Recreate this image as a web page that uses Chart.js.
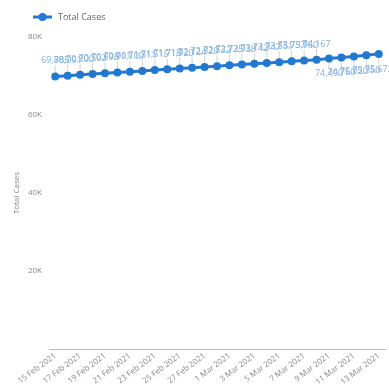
<!DOCTYPE html>
<html>
<head>
<meta charset="utf-8">
<script src="https://cdn.jsdelivr.net/npm/chart.js@4/dist/chart.umd.min.js"></script>
<style>
  html, body { margin: 0; padding: 0; background: #fff; }
  #wrap { width: 389px; height: 387px; }
</style>
</head>
<body>
<div id="wrap"><canvas id="casesChart" width="389" height="387"></canvas></div>
<script>
// dates, 15 Feb 2021 .. 13 Mar 2021
const dates = [
  '15 Feb 2021', '16 Feb 2021', '17 Feb 2021', '18 Feb 2021', '19 Feb 2021', '20 Feb 2021',
  '21 Feb 2021', '22 Feb 2021', '23 Feb 2021', '24 Feb 2021', '25 Feb 2021', '26 Feb 2021',
  '27 Feb 2021', '28 Feb 2021', '1 Mar 2021', '2 Mar 2021', '3 Mar 2021', '4 Mar 2021',
  '5 Mar 2021', '6 Mar 2021', '7 Mar 2021', '8 Mar 2021', '9 Mar 2021', '10 Mar 2021',
  '11 Mar 2021', '12 Mar 2021', '13 Mar 2021'
];
const totalCases = [
  69885, 70091, 70300, 70502, 70698, 70901, 71109, 71311, 71515, 71718, 71920, 72124,
  72329, 72532, 72735, 72938, 73142, 73347, 73551, 73757, 73960, 74167, 74490, 74760,
  75020, 75350, 75672
];
const yTicks = [0, 20000, 40000, 60000, 80000];
const seriesName = 'Total Cases';

const lineColor = '#2179d4';
const font = "'Open Sans', sans-serif";

// legend drawn by hand: line with a dot, then the name
const legendMark = {
  id: 'legendMark',
  afterDraw(chart) {
    const ctx = chart.ctx;
    ctx.save();
    ctx.strokeStyle = lineColor; ctx.lineWidth = 3;
    ctx.beginPath(); ctx.moveTo(33, 17); ctx.lineTo(52, 17); ctx.stroke();
    ctx.fillStyle = lineColor;
    ctx.beginPath(); ctx.arc(42.5, 17, 4, 0, Math.PI * 2); ctx.fill();
    ctx.fillStyle = '#666';
    ctx.font = '9px ' + font;
    ctx.textBaseline = 'middle';
    ctx.fillText(seriesName, 58, 17);
    ctx.restore();
  }
};

// data labels with leader lines
const valueLabels = {
  id: 'valueLabels',
  afterDatasetsDraw(chart) {
    const ctx = chart.ctx;
    const meta = chart.getDatasetMeta(0);
    ctx.save();
    ctx.font = "9px 'Liberation Sans Narrow', 'Open Sans', sans-serif";
    ctx.textAlign = 'center';
    meta.data.forEach((pt, i) => {
      const below = i >= 22;
      const txt = totalCases[i].toLocaleString('en-US');
      const ty = below ? pt.y + 18 : pt.y - 13;
      ctx.strokeStyle = 'rgba(90,90,90,0.45)';
      ctx.lineWidth = 0.6;
      ctx.beginPath();
      ctx.moveTo(pt.x, pt.y);
      ctx.lineTo(pt.x, below ? ty - 8 : ty + 2);
      ctx.stroke();
      ctx.fillStyle = '#82b1de';
      ctx.fillText(txt, pt.x, ty);
    });
    ctx.restore();
  }
};

new Chart(document.getElementById('casesChart'), {
  type: 'line',
  data: {
    labels: dates,
    datasets: [{
      label: seriesName,
      data: totalCases,
      borderColor: lineColor,
      backgroundColor: lineColor,
      borderWidth: 3,
      pointRadius: 4,
      pointBackgroundColor: lineColor,
      pointBorderWidth: 0,
      tension: 0
    }]
  },
  options: {
    responsive: false,
    animation: false,
    layout: { padding: { top: 37, right: 2.7, left: 0, bottom: 0 } },
    plugins: {
      tooltip: { enabled: false },
      legend: { display: false }
    },
    scales: {
      x: {
        offset: true,
        grid: { display: false, drawTicks: false },
        border: { display: true, color: '#bbb', width: 1 },
        afterFit(scale) { scale.height = 38; },
        ticks: {
          color: '#888',
          font: { family: font, size: 8 },
          maxRotation: 37,
          minRotation: 37,
          autoSkip: false,
          padding: 2,
          callback(v, i) { return i % 2 === 0 ? dates[i] : ''; }
        }
      },
      y: {
        min: yTicks[0],
        max: yTicks[yTicks.length - 1],
        afterBuildTicks(axis) { axis.ticks = yTicks.map(v => ({ value: v })); },
        afterFit(scale) { scale.width = 49; },
        grid: { display: false, drawTicks: false },
        border: { display: false },
        title: {
          display: true,
          text: seriesName,
          color: '#888',
          font: { family: font, size: 8 },
          padding: { top: 12, bottom: 0 }
        },
        ticks: {
          color: '#888',
          font: { family: font, size: 8 },
          padding: 7,
          callback(v) { return v === 0 ? '' : (v / 1000) + 'K'; }
        }
      }
    }
  },
  plugins: [valueLabels, legendMark]
});
</script>
</body>
</html>
